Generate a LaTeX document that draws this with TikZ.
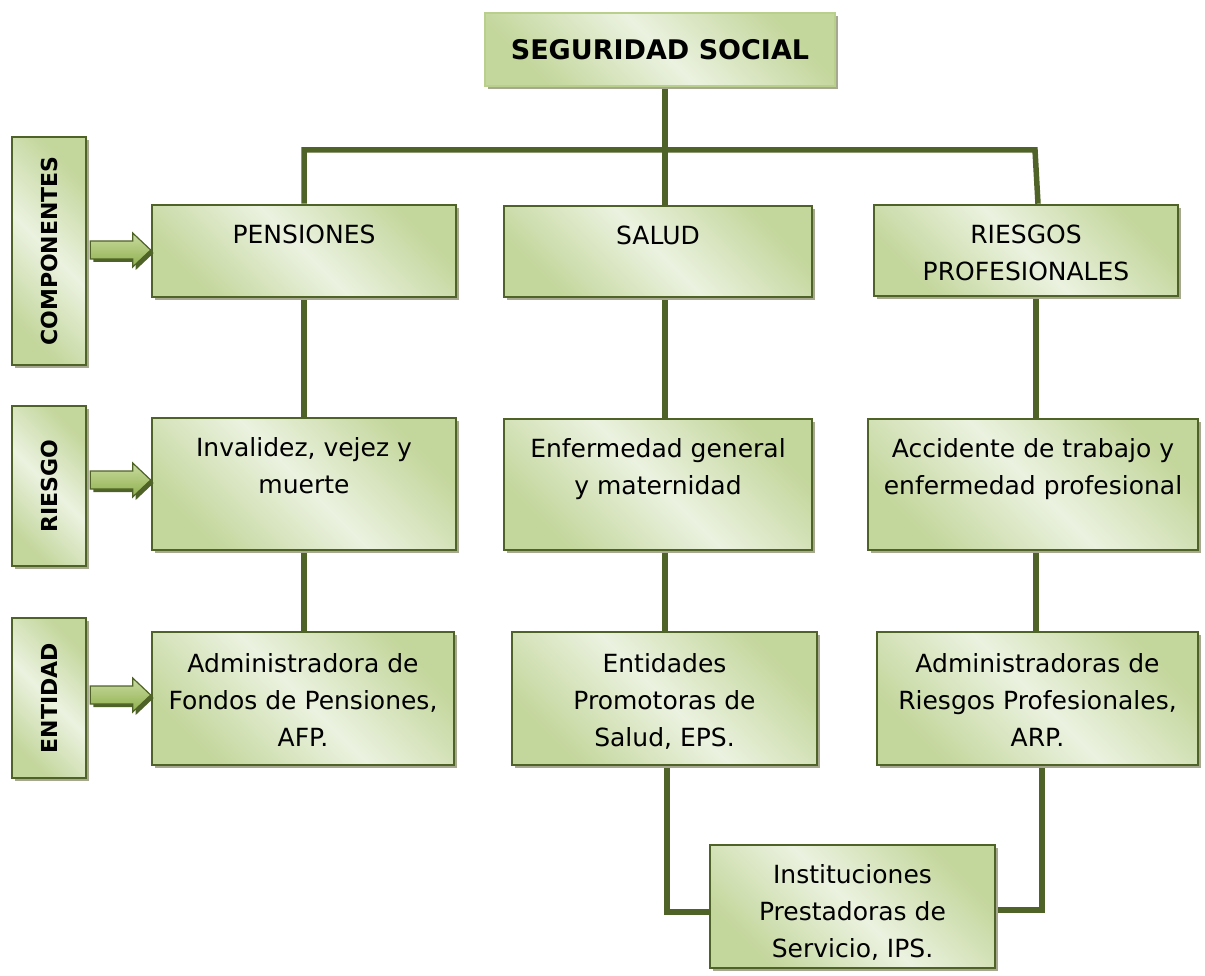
\documentclass[tikz,border=0pt]{standalone}
\usepackage{fontspec}
\setmainfont{DejaVu Sans}
\usetikzlibrary{shadows,calc,backgrounds}

\definecolor{oliveDark}{HTML}{4F6228}
\definecolor{leafLight}{HTML}{EBF2E0}
\definecolor{leafMid}{HTML}{C3D69B}
\definecolor{leafEdge}{HTML}{B9CF8C}
\definecolor{arrowTop}{HTML}{C9DBA2}
\definecolor{arrowBot}{HTML}{8FB04C}
\definecolor{shadowGrey}{HTML}{A6A890}

\tikzset{
  box/.style={draw=oliveDark, line width=2.6pt, inner sep=0pt,
    top color=leafMid, bottom color=leafMid, middle color=leafLight,
    shading angle=-45,
    drop shadow={shadow xshift=3pt, shadow yshift=-3pt, fill=shadowGrey, opacity=1}},
  titlebox/.style={box, draw=leafEdge},
  txt/.style={align=center, inner sep=0pt, anchor=north,
    font=\fontsize{25}{37}\selectfont},
  vlabel/.style={rotate=90, inner sep=0pt, font=\fontsize{22}{26}\selectfont\bfseries},
  link/.style={draw=oliveDark, line width=5.5pt, line join=miter},
  blockarrow/.style={draw=oliveDark, line width=1.2pt, line join=miter,
    top color=arrowTop, bottom color=arrowBot,
    drop shadow={shadow xshift=3pt, shadow yshift=-3pt, fill=oliveDark, opacity=1}},
}

% block arrow from #1 (tail) to #2 (tip)
\newcommand{\blockarr}[2]{%
  \path[blockarrow] ($(#1)+(0,-9)$) -- ($(#2)+(-18,-9)$) -- ($(#2)+(-18,-17)$)
    -- (#2) -- ($(#2)+(-18,17)$) -- ($(#2)+(-18,9)$) -- ($(#1)+(0,9)$) -- cycle;}

\begin{document}
\begin{tikzpicture}[x=1pt, y=-1pt]
\useasboundingbox (0,0) rectangle (1205,976);

% title
\node[titlebox, minimum width=350, minimum height=73,
  font=\fontsize{27}{32}\selectfont\bfseries] (title) at (660,49.5) {SEGURIDAD SOCIAL};

% row labels on the left
\node[box, minimum width=74, minimum height=228] (comp) at (49,251) {};
\node[vlabel] (compt) at (comp.center) {COMPONENTES};
\node[box, minimum width=74, minimum height=160] (riesgo) at (49,486) {};
\node[vlabel] (riesgot) at (riesgo.center) {RIESGO};
\node[box, minimum width=74, minimum height=160] (entidad) at (49,698) {};
\node[vlabel] (entidadt) at (entidad.center) {ENTIDAD};

% components
\node[box, minimum width=304, minimum height=92] (pen) at (304,251) {};
\node[txt] (pent) at ($(pen.north)+(0,21)$) {PENSIONES};
\node[box, minimum width=308, minimum height=91] (salud) at (658,251.5) {};
\node[txt] (saludt) at ($(salud.north)+(0,21)$) {SALUD};
\node[box, minimum width=304, minimum height=91] (rp) at (1026,250.5) {};
\node[txt] (rpt) at ($(rp.north)+(0,21)$) {RIESGOS\\PROFESIONALES};

% risks
\node[box, minimum width=304, minimum height=132] (inv) at (304,484) {};
\node[txt] (invt) at ($(inv.north)+(0,21)$) {Invalidez, vejez y\\muerte};
\node[box, minimum width=308, minimum height=131] (enf) at (658,484.5) {};
\node[txt] (enft) at ($(enf.north)+(0,21)$) {Enfermedad general\\y maternidad};
\node[box, minimum width=330, minimum height=131] (acc) at (1033,484.5) {};
\node[txt] (acct) at ($(acc.north)+(0,21)$) {Accidente de trabajo y\\enfermedad profesional};

% entities
\node[box, minimum width=302, minimum height=133] (afp) at (303,698.5) {};
\node[txt] (afpt) at ($(afp.north)+(0,23)$) {Administradora de\\Fondos de Pensiones,\\AFP.};
\node[box, minimum width=305, minimum height=133] (eps) at (664.5,698.5) {};
\node[txt] (epst) at ($(eps.north)+(0,23)$) {Entidades\\Promotoras de\\Salud, EPS.};
\node[box, minimum width=321, minimum height=133] (arp) at (1037.5,698.5) {};
\node[txt] (arpt) at ($(arp.north)+(0,23)$) {Administradoras de\\Riesgos Profesionales,\\ARP.};

\node[box, minimum width=285, minimum height=123] (ips) at (852.5,906.5) {};
\node[txt] (ipst) at ($(ips.north)+(0,21)$) {Instituciones\\Prestadoras de\\Servicio, IPS.};

% connectors
\coordinate (hub) at (665,150);
\coordinate (rtop) at (1035,150);
\coordinate (rbot) at (1038,0);
\coordinate (rx) at (1036,0);
\coordinate (lowL) at (667,912);
\coordinate (lowR) at (1042,910);
\begin{scope}[on background layer]
  \draw[link] (title.south -| hub) -- (salud.north -| hub);
  \draw[link] (pen.north) -- (pen.north |- hub) -- (rtop) -- (rp.north -| rbot);
  \draw[link] (pen.south) -- (pen.south |- inv.north);
  \draw[link] (inv.south) -- (inv.south |- afp.north);
  \draw[link] (salud.south -| hub) -- (enf.north -| hub);
  \draw[link] (enf.south -| hub) -- (eps.north -| hub);
  \draw[link] (rp.south -| rx) -- (acc.north -| rx);
  \draw[link] (acc.south -| rx) -- (arp.north -| rx);
  \draw[link] (eps.south -| lowL) -- (lowL) -- (ips.west |- lowL);
  \draw[link] (arp.south -| lowR) -- (lowR) -- (ips.east |- lowR);
\end{scope}

% arrows from the row labels
\coordinate (a1s) at ($(comp.east |- 0,250)+(3,0)$);
\coordinate (a1e) at (pen.west |- 0,250);
\coordinate (a2s) at ($(riesgo.east |- 0,480)+(3,0)$);
\coordinate (a2e) at (inv.west |- 0,480);
\coordinate (a3s) at ($(entidad.east |- 0,695)+(3,0)$);
\coordinate (a3e) at (afp.west |- 0,695);
\blockarr{a1s}{a1e}
\blockarr{a2s}{a2e}
\blockarr{a3s}{a3e}
\end{tikzpicture}
\end{document}
